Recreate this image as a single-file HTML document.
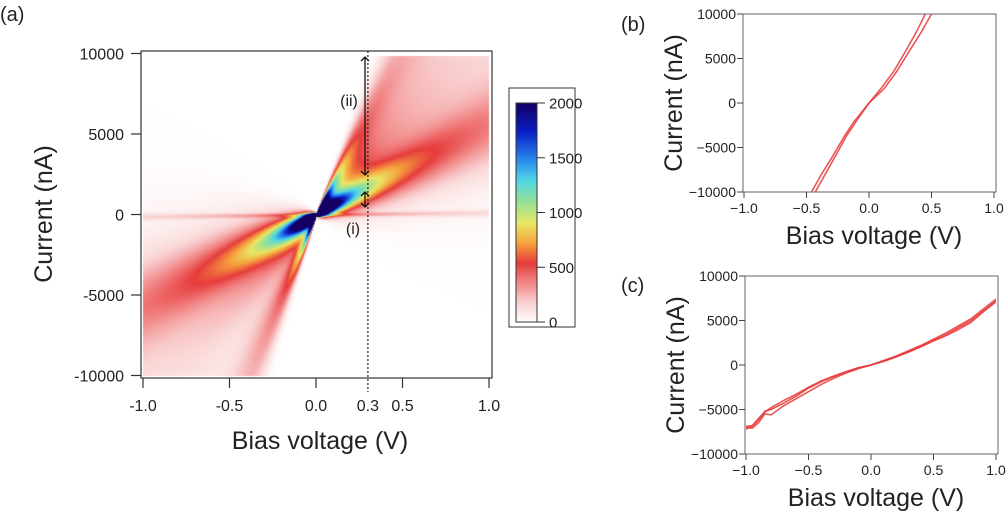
<!DOCTYPE html>
<html><head><meta charset="utf-8">
<style>
html,body{margin:0;padding:0;background:#fff;width:1006px;height:511px;overflow:hidden;font-family:"Liberation Sans",Arial,sans-serif;}
#wrap{position:relative;width:1006px;height:511px;}
#heat{position:absolute;left:0;top:0;}
svg{position:absolute;left:0;top:0;}
text{font-family:"Liberation Sans",Arial,sans-serif;fill:#222;}
</style></head>
<body>
<div id="wrap">
<canvas id="heat" width="1006" height="511"></canvas>
<svg id="svg" width="1006" height="511" xmlns="http://www.w3.org/2000/svg"></svg>
</div>
<script>
// ---- Heatmap branch data (positive and negative bias) ----
const posSlopes = [20000, 5500, 120, 9000];
const posWidths = [4000, 1500, 90, 5000];
const posAmps = [500, 430, 18, 750];
const negSlopes = [25000, 5500, 120, 8000];
const negWidths = [5000, 1600, 90, 5000];
const negAmps = [500, 450, 18, 750];
const branchPow = [1, 0.8, 1, 1];
const cbTicks = [0, 500, 1000, 1500, 2000];
const mainXTicks = [-1.0, -0.5, 0.0, 0.5, 1.0];
const mainXTickLabels = ["-1.0", "-0.5", "0.0", "0.5", "1.0"];
const mainYTicks = [-10000, -5000, 0, 5000, 10000];
// ---- panel (b) ----
const bV1 = [-0.46, -0.38, -0.3, -0.2, -0.12, 0, 0.1, 0.2, 0.3, 0.38, 0.45];
const bI1 = [-10000, -8000, -6200, -3800, -2100, 0, 1700, 3600, 6000, 8000, 10000];
const bV2 = [-0.43, -0.35, -0.27, -0.18, -0.1, 0, 0.12, 0.22, 0.33, 0.42, 0.5];
const bI2 = [-10000, -8000, -6000, -3700, -2000, 0, 1600, 3500, 6000, 8000, 10000];
// ---- panel (c) ----
const cV = [-1.0, -0.95, -0.9, -0.85, -0.8, -0.7, -0.6, -0.5, -0.4, -0.3, -0.2, -0.1, 0, 0.1, 0.2, 0.3, 0.4, 0.5, 0.6, 0.7, 0.8, 0.9, 1.0];
const cI1 = [-7000, -7100, -6500, -5500, -5600, -4600, -3800, -3000, -2200, -1500, -900, -400, 0, 500, 1000, 1600, 2200, 2900, 3600, 4400, 5200, 6300, 7400];
const cI2 = [-7200, -6900, -6200, -5200, -5000, -4300, -3500, -2600, -1900, -1300, -800, -350, 0, 450, 950, 1500, 2100, 2800, 3400, 4200, 5000, 6100, 7200];
const cI3 = [-6900, -6800, -6000, -5300, -4800, -4000, -3300, -2500, -1800, -1250, -750, -300, 0, 400, 900, 1450, 2050, 2700, 3300, 4000, 4800, 6000, 7100];

const NS = "http://www.w3.org/2000/svg";
const svg = document.getElementById('svg');
function el(tag, attrs, parent) {
  const e = document.createElementNS(NS, tag);
  for (const k in attrs) e.setAttribute(k, attrs[k]);
  (parent || svg).appendChild(e);
  return e;
}
function txt(s, x, y, size, anchor, parent, extra) {
  const t = el('text', Object.assign({x: x, y: y, 'font-size': size, 'text-anchor': anchor || 'middle'}, extra || {}), parent);
  t.textContent = s;
  return t;
}

const cmStops = [[0,[255,255,255]],[0.08,[250,215,215]],[0.2,[240,120,120]],[0.27,[230,60,60]],[0.36,[245,160,60]],[0.45,[235,230,100]],[0.55,[150,225,150]],[0.65,[80,215,230]],[0.75,[40,130,235]],[0.87,[10,30,200]],[1,[20,0,100]]];
function cmap(f) {
  f = Math.max(0, Math.min(1, f));
  for (let i = 1; i < cmStops.length; i++) {
    if (f <= cmStops[i][0]) {
      const a = cmStops[i-1], b = cmStops[i], t = (f - a[0]) / (b[0] - a[0]);
      return [0,1,2].map(k => Math.round(a[1][k] + (b[1][k] - a[1][k]) * t));
    }
  }
  return cmStops[cmStops.length-1][1];
}

const mx = v => 316 + v * 173;
const my = i => 214.5 - i * 0.01610;
const ctx = document.getElementById('heat').getContext('2d');
(function drawHeat() {
  const x0 = Math.round(mx(-1)), x1 = Math.round(mx(1)), y0 = Math.round(my(10000)) + 2, y1 = Math.round(my(-10000));
  const img = ctx.createImageData(x1 - x0, y1 - y0);
  for (let py = y0; py < y1; py++) {
    const I = (214.5 - py) / 0.01610;
    for (let px = x0; px < x1; px++) {
      const V = (px - 316) / 173;
      const av = Math.abs(V);
      const S = V >= 0 ? posSlopes : negSlopes, W = V >= 0 ? posWidths : negWidths, A = V >= 0 ? posAmps : negAmps;
      let c = 0;
      for (let b = 0; b < S.length; b++) {
        const sig = W[b] * Math.pow(av, branchPow[b]) + 60;
        const z = (I - S[b] * V) / sig;
        c += A[b] * Math.exp(-0.5 * z * z) / sig;
      }
      const col = cmap(c * 0.5);
      const idx = ((py - y0) * (x1 - x0) + (px - x0)) * 4;
      img.data[idx] = col[0]; img.data[idx+1] = col[1]; img.data[idx+2] = col[2]; img.data[idx+3] = 255;
    }
  }
  ctx.putImageData(img, x0, y0);
  for (let py = 103; py <= 322; py++) {
    const col = cmap((322 - py) / 219);
    ctx.fillStyle = `rgb(${col[0]},${col[1]},${col[2]})`;
    ctx.fillRect(516, py, 21, 1);
  }
})();

const gA = el('g', {}); 

txt('(a)', 0, 21, 20, 'start', gA);
el('rect', {x: 141, y: 51, width: 351, height: 327, fill: 'none', stroke: '#333', 'stroke-width': 1.2,  }, gA);
mainYTicks.forEach(v => {
  el('line', {x1: 131, x2: 141, y1: my(v), y2: my(v), stroke: '#333', 'stroke-width': 1.2}, gA);
  txt(String(v), 124, my(v) + 6, 16, 'end', gA);
});
mainXTicks.forEach((v, i) => {
  el('line', {x1: mx(v), x2: mx(v), y1: 378, y2: 388, stroke: '#333', 'stroke-width': 1.2}, gA);
  txt(mainXTickLabels[i], mx(v), 411, 16, 'middle', gA);
});
txt('0.3', mx(0.3), 411, 16, 'middle', gA);
el('line', {x1: mx(0.3), x2: mx(0.3), y1: 51, y2: 392, stroke: '#222', 'stroke-width': 1.2, 'stroke-dasharray': '2,2',  }, gA);
txt('Bias voltage (V)', 320, 449, 25, 'middle', gA);
txt('Current (nA)', 0, 0, 25, 'middle', gA, {transform: 'translate(52,214) rotate(-90)'});
function dblArrow(x, ya, yb, name) {
  const g = el('g', {stroke: '#111', 'stroke-width': 1.3, fill: 'none'}, gA);
  
  
  el('line', {x1: x, x2: x, y1: ya, y2: yb}, g);
  el('polyline', {points: `${x-4},${ya+4} ${x},${ya} ${x+4},${ya+4}`}, g);
  el('polyline', {points: `${x-4},${yb-4} ${x},${yb} ${x+4},${yb-4}`}, g);
}
dblArrow(365, 57, 175, 'arrow-ii');
dblArrow(365, 192, 207, 'arrow-i');
txt('(ii)', 349, 106, 16, 'middle', gA);
txt('(i)', 353, 234, 16, 'middle', gA);
el('rect', {x: 509, y: 88, width: 66, height: 239, fill: 'none', stroke: '#333', 'stroke-width': 1,  }, gA);
el('rect', {x: 516, y: 103, width: 21, height: 219, fill: 'none', stroke: '#333', 'stroke-width': 1,  }, gA);
cbTicks.forEach(v => {
  const y = 322 - v / 2000 * 219;
  el('line', {x1: 537, x2: 545, y1: y, y2: y, stroke: '#333', 'stroke-width': 1}, gA);
  txt(String(v), 549, y + 5.5, 15, 'start', gA);
});

function panel(name, label, lx, ly, top, bottom, left, right, series) {
  const g = el('g', {}); 
  
  const px = v => left + (v + 1) / 2 * (right - left);
  const py = i => bottom - (i + 10000) / 20000 * (bottom - top);
  txt(label, lx, ly, 20, 'start', g);
  el('rect', {x: left - 1, y: top, width: right - left + 3, height: bottom - top, fill: 'none', stroke: '#666', 'stroke-width': 1}, g);
  [-10000, -5000, 0, 5000, 10000].forEach(v => {
    el('line', {x1: left - 7, x2: left - 1, y1: py(v), y2: py(v), stroke: '#444'}, g);
    txt(v < 0 ? '\u2212' + (-v) : String(v), left - 8, py(v) + 5, 14, 'end', g);
  });
  [-1, -0.5, 0, 0.5, 1].forEach(v => {
    el('line', {x1: px(v), x2: px(v), y1: bottom, y2: bottom + 6, stroke: '#444'}, g);
    txt((v < 0 ? '\u2212' : '') + Math.abs(v).toFixed(1), px(v), bottom + 21, 14, 'middle', g);
  });
  txt('Bias voltage (V)', (left + right) / 2 + 5, bottom + 52, 25, 'middle', g);
  txt('Current (nA)', 0, 0, 25, 'middle', g, {transform: `translate(${left - 62},${(top + bottom) / 2}) rotate(-90)`});
  const cp = el('clipPath', {id: name + '-clip'}, g);
  el('rect', {x: left, y: top, width: right - left, height: bottom - top}, cp);
  series.forEach((s, k) => {
    const p = el('polyline', {points: s[0].map((v, i) => px(v) + ',' + py(s[1][i])).join(' '), fill: 'none', stroke: '#e83a3a', 'stroke-width': 1.6, 'stroke-opacity': 0.85, 'clip-path': `url(#${name}-clip)`}, g);
    
    
  });
}
panel('panel-b', '(b)', 621, 31, 14, 192, 744, 994, [[bV1, bI1], [bV2, bI2]]);
panel('panel-c', '(c)', 621, 292, 276, 454, 746, 996, [[cV, cI1], [cV, cI2], [cV, cI3]]);
</script>
</body></html>
